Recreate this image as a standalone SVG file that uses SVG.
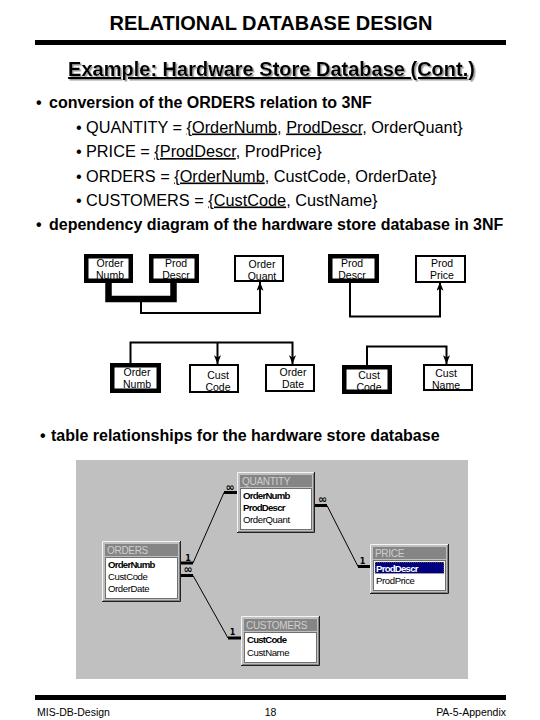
<svg xmlns="http://www.w3.org/2000/svg" width="540" height="720" viewBox="0 0 540 720">
<style>
.sans{font-family:"Liberation Sans",Arial,sans-serif}
.bul1{font-family:"Liberation Sans",Arial,sans-serif;font-size:16px;font-weight:bold;fill:#000}
.bul2{font-family:"Liberation Sans",Arial,sans-serif;font-size:16.3px;fill:#000}
.u{text-decoration:underline}
.nbg{fill:#fff;stroke:none}
.thick{fill:none;stroke:#000;stroke-width:4.5}
.thin{fill:none;stroke:#000;stroke-width:2}
.nt{font-family:"Liberation Sans",Arial,sans-serif;font-size:10.5px;text-anchor:middle;fill:#000}
.tf{fill:#c0c0c0}
.hl{fill:none;stroke:#f4f4f4;stroke-width:1}
.sh{fill:none;stroke:#202020;stroke-width:1}
.sh2{fill:none;stroke:#808080;stroke-width:1}
.tb{fill:#858585}
.tt{font-family:"Liberation Sans",Arial,sans-serif;font-size:10px;letter-spacing:-0.3px;fill:#cfcfcf}
.lst{fill:#fff;stroke:#707070;stroke-width:1}
.fk{font-family:"Liberation Sans",Arial,sans-serif;font-size:9.6px;font-weight:bold;letter-spacing:-0.75px;fill:#000}
.fr{font-family:"Liberation Sans",Arial,sans-serif;font-size:9.6px;letter-spacing:-0.4px;fill:#000}
.card{font-family:"DejaVu Sans",sans-serif;font-weight:bold;fill:#000;text-anchor:middle}
.foot{font-family:"Liberation Sans",Arial,sans-serif;font-size:10.5px;fill:#000}
</style>
<defs>
<marker id="ah" viewBox="0 0 10 8" refX="10" refY="4" markerWidth="9" markerHeight="7" orient="auto" markerUnits="userSpaceOnUse">
<path d="M0,0 L10,4 L0,8 L2.5,4 z" fill="#000"/>
</marker>
<filter id="shadow" x="-5%" y="-20%" width="110%" height="150%">
<feDropShadow dx="1.5" dy="1.5" stdDeviation="0.6" flood-color="#9a9a9a" flood-opacity="1"/>
</filter>
</defs>
<rect width="540" height="720" fill="#fff"/>

<!-- Header -->
<text x="271" y="29.5" class="sans" font-size="20" font-weight="bold" text-anchor="middle">RELATIONAL DATABASE DESIGN</text>
<rect x="35" y="40" width="471" height="5" fill="#000"/>
<text x="271.5" y="76" class="sans u" font-size="20" font-weight="bold" text-anchor="middle" filter="url(#shadow)">Example: Hardware Store Database (Cont.)</text>

<!-- Bullets -->
<text class="bul1" y="107.5"><tspan x="36">•</tspan><tspan x="49">conversion of the ORDERS relation to 3NF</tspan></text>
<text class="bul2" y="132.5"><tspan x="76">•</tspan><tspan x="86">QUANTITY = </tspan><tspan class="u">{OrderNumb</tspan><tspan>, </tspan><tspan class="u">ProdDescr</tspan><tspan>, OrderQuant}</tspan></text>
<text class="bul2" y="157"><tspan x="76">•</tspan><tspan x="86">PRICE = </tspan><tspan class="u">{ProdDescr</tspan><tspan>, ProdPrice}</tspan></text>
<text class="bul2" y="181.5"><tspan x="76">•</tspan><tspan x="86">ORDERS = </tspan><tspan class="u">{OrderNumb</tspan><tspan>, CustCode, OrderDate}</tspan></text>
<text class="bul2" y="205.5"><tspan x="76">•</tspan><tspan x="86">CUSTOMERS = </tspan><tspan class="u">{CustCode</tspan><tspan>, CustName}</tspan></text>
<text class="bul1" y="230"><tspan x="36">•</tspan><tspan x="49">dependency diagram of the hardware store database in 3NF</tspan></text>

<!-- Dependency diagram nodes -->
<g id="dep-q-ordernumb">
<rect class="nbg" x="86.25" y="256.25" width="44.5" height="24.5"/>
<text class="nt"><tspan x="110" y="267">Order</tspan><tspan x="110" y="279">Numb</tspan></text>
<rect class="thick" x="86.25" y="256.25" width="44.5" height="24.5"/>
</g>
<g id="dep-q-proddescr">
<rect class="nbg" x="151.25" y="256.25" width="45.5" height="24.5"/>
<text class="nt"><tspan x="176" y="267">Prod</tspan><tspan x="176" y="279">Descr</tspan></text>
<rect class="thick" x="151.25" y="256.25" width="45.5" height="24.5"/>
</g>
<g id="dep-q-orderquant">
<rect class="nbg" x="235" y="256" width="48" height="25"/>
<text class="nt"><tspan x="262" y="268">Order</tspan><tspan x="262" y="280">Quant</tspan></text>
<rect class="thin" x="235" y="256" width="48" height="25"/>
</g>
<g id="dep-p-proddescr">
<rect class="nbg" x="330.25" y="256.25" width="46.5" height="24.5"/>
<text class="nt"><tspan x="352" y="267">Prod</tspan><tspan x="352" y="279">Descr</tspan></text>
<rect class="thick" x="330.25" y="256.25" width="46.5" height="24.5"/>
</g>
<g id="dep-p-prodprice">
<rect class="nbg" x="416" y="256" width="49" height="26"/>
<text class="nt"><tspan x="442" y="267">Prod</tspan><tspan x="442" y="279">Price</tspan></text>
<rect class="thin" x="416" y="256" width="49" height="26"/>
</g>
<g id="dep-o-ordernumb">
<rect class="nbg" x="112.25" y="365.25" width="46.5" height="25.5"/>
<text class="nt"><tspan x="137" y="376">Order</tspan><tspan x="137" y="388">Numb</tspan></text>
<rect class="thick" x="112.25" y="365.25" width="46.5" height="25.5"/>
</g>
<g id="dep-o-custcode">
<rect class="nbg" x="190" y="365" width="48" height="27"/>
<text class="nt"><tspan x="218" y="379">Cust</tspan><tspan x="218" y="391">Code</tspan></text>
<rect class="thin" x="190" y="365" width="48" height="27"/>
</g>
<g id="dep-o-orderdate">
<rect class="nbg" x="266" y="365" width="48" height="26"/>
<text class="nt"><tspan x="293" y="376">Order</tspan><tspan x="293" y="388">Date</tspan></text>
<rect class="thin" x="266" y="365" width="48" height="26"/>
</g>
<g id="dep-c-custcode">
<rect class="nbg" x="344.25" y="367.25" width="45.5" height="24.5"/>
<text class="nt"><tspan x="369" y="379">Cust</tspan><tspan x="369" y="391">Code</tspan></text>
<rect class="thick" x="344.25" y="367.25" width="45.5" height="24.5"/>
</g>
<g id="dep-c-custname">
<rect class="nbg" x="424" y="365" width="48" height="25"/>
<text class="nt"><tspan x="446" y="377">Cust</tspan><tspan x="446" y="389">Name</tspan></text>
<rect class="thin" x="424" y="365" width="48" height="25"/>
</g>

<!-- Table relationships -->
<text class="bul1" y="441"><tspan x="40">•</tspan><tspan x="51">table relationships for the hardware store database</tspan></text>
<rect x="76" y="460" width="392" height="219" fill="#c0c0c0"/>

<g id="tbl-quantity">
<rect class="tf" x="237" y="472" width="78" height="61"/>
<path class="hl" d="M237.5,533 V472.5 H315"/>
<path class="sh" d="M314.5,472 V532.5 H237"/>
<path class="sh2" d="M313.5,473 V531.5 H238"/>
<rect class="tb" x="240" y="475" width="72" height="12"/>
<text class="tt" x="242" y="485">QUANTITY</text>
<rect class="lst" x="240.5" y="488.5" width="71" height="41"/>
<text class="fk" x="243" y="499">OrderNumb</text>
<text class="fk" x="243" y="511">ProdDescr</text>
<text class="fr" x="243" y="523">OrderQuant</text>
</g>

<g id="tbl-orders">
<rect class="tf" x="102" y="541" width="79" height="61"/>
<path class="hl" d="M102.5,602 V541.5 H181"/>
<path class="sh" d="M180.5,541 V601.5 H102"/>
<path class="sh2" d="M179.5,542 V600.5 H103"/>
<rect class="tb" x="105" y="544" width="73" height="12"/>
<text class="tt" x="107" y="554">ORDERS</text>
<rect class="lst" x="105.5" y="557.5" width="72" height="41"/>
<text class="fk" x="108" y="568">OrderNumb</text>
<text class="fr" x="108" y="580">CustCode</text>
<text class="fr" x="108" y="592">OrderDate</text>
</g>

<g id="tbl-customers">
<rect class="tf" x="241" y="616" width="79" height="50"/>
<path class="hl" d="M241.5,666 V616.5 H320"/>
<path class="sh" d="M319.5,616 V665.5 H241"/>
<path class="sh2" d="M318.5,617 V664.5 H242"/>
<rect class="tb" x="244" y="619" width="73" height="12"/>
<text class="tt" x="246" y="629">CUSTOMERS</text>
<rect class="lst" x="244.5" y="632.5" width="72" height="30"/>
<text class="fk" x="247" y="643">CustCode</text>
<text class="fr" x="247" y="655.5">CustName</text>
</g>

<g id="tbl-price">
<rect class="tf" x="370" y="544" width="79" height="50"/>
<path class="hl" d="M370.5,594 V544.5 H449"/>
<path class="sh" d="M448.5,544 V593.5 H370"/>
<path class="sh2" d="M447.5,545 V592.5 H371"/>
<rect class="tb" x="373" y="547" width="73" height="12"/>
<text class="tt" x="375" y="557">PRICE</text>
<rect class="lst" x="373.5" y="560.5" width="72" height="30"/>
<rect x="375" y="562" width="69" height="11.5" fill="#000080" stroke="#c8c860" stroke-width="0.8" stroke-dasharray="1,1"/>
<text class="fk" x="376" y="571.5" style="fill:#fff">ProdDescr</text>
<text class="fr" x="376" y="584">ProdPrice</text>
</g>

<!-- Connectors -->
<g id="connectors">
<g fill="none" stroke="#000">
<path d="M108.5,283 V299 H173.5 V283" stroke-width="6.5"/>
<path d="M141,302 V313 H260 V282" stroke-width="2" marker-end="url(#ah)"/>
<path d="M350,283 V316.5 H440 V282" stroke-width="2" marker-end="url(#ah)"/>
<path d="M130.5,363 V342.5 H292.5 V364" stroke-width="2" marker-end="url(#ah)"/>
<path d="M217.5,342.5 V364" stroke-width="2" marker-end="url(#ah)"/>
<path d="M367,365 V346.5 H446.5 V364" stroke-width="2" marker-end="url(#ah)"/>
</g>
<g fill="none" stroke="#000">
<path d="M181,563 H193" stroke-width="3"/>
<path d="M181,575.5 H193" stroke-width="3"/>
<path d="M224,492.5 H237" stroke-width="3"/>
<path d="M228,638 H241" stroke-width="3"/>
<path d="M315,505.5 H327" stroke-width="3"/>
<path d="M358,566.5 H370" stroke-width="3"/>
<path d="M193,563 L224,492.5" stroke-width="1"/>
<path d="M193,575.5 L228,638" stroke-width="1"/>
<path d="M327,505.5 L358,566.5" stroke-width="1"/>
</g>
<text class="card" x="188" y="560.5" font-size="8">1</text>
<text class="card" x="188" y="573" font-size="11">∞</text>
<text class="card" x="230" y="490.5" font-size="11">∞</text>
<text class="card" x="232.5" y="635" font-size="8">1</text>
<text class="card" x="322.5" y="502.5" font-size="11">∞</text>
<text class="card" x="362.5" y="564" font-size="8">1</text>
</g>

<!-- Footer -->
<rect x="35" y="695" width="471" height="5" fill="#000"/>
<text class="foot" x="37" y="716">MIS-DB-Design</text>
<text class="foot" x="270.5" y="716" text-anchor="middle">18</text>
<text class="foot" x="506" y="716" text-anchor="end">PA-5-Appendix</text>
</svg>
